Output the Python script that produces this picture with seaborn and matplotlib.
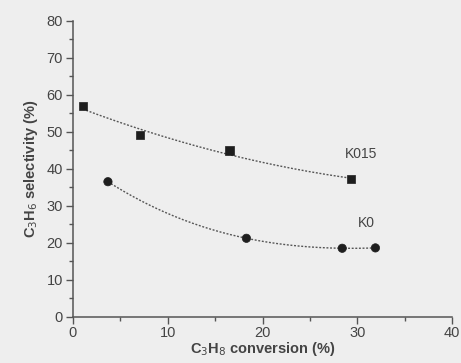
import numpy as np
import pandas as pd
import matplotlib
matplotlib.use("Agg")
import matplotlib.pyplot as plt
import seaborn as sns
from matplotlib.ticker import MultipleLocator

# Propane conversion (%) vs. propylene selectivity (%)
k015_conv = [1.05, 7.1, 16.5, 29.3]
k015_sel = [56.9, 49.1, 44.9, 37.2]
k0_conv = [3.7, 18.3, 28.4, 31.9]
k0_sel = [36.5, 21.2, 18.5, 18.6]

series_names = ["K015", "K0"]
label_pos = {"K015": (30.4, 44.1), "K0": (30.9, 25.2)}

df = pd.concat([
    pd.DataFrame({"conv": k015_conv, "sel": k015_sel, "sample": "K015"}),
    pd.DataFrame({"conv": k0_conv, "sel": k0_sel, "sample": "K0"}),
])

sns.set_theme(style="ticks")
plt.rcParams["font.family"] = ["Liberation Sans", "DejaVu Sans"]

bg = "#eeeeee"
ink = "#444444"
fig = plt.figure(figsize=(4.61, 3.63), dpi=100, facecolor=bg)
ax = fig.add_axes([0.158, 0.1276, 0.823, 0.815])
ax.set_facecolor(bg)

# trend curves (least-squares polynomial fits)
fit_deg = {"K015": 2, "K0": 3}
for name in series_names:
    sub = df[df["sample"] == name]
    coef = np.polyfit(sub["conv"], sub["sel"], fit_deg[name])
    xs = np.linspace(sub["conv"].min(), sub["conv"].max(), 200)
    ax.plot(xs, np.polyval(coef, xs), color="#555555", lw=1.0,
            ls=(0, (1.4, 1.2)), zorder=2)

sns.scatterplot(data=df, x="conv", y="sel", style="sample", markers={"K015": "s", "K0": "o"},
                color="#1e1e1e", s=36, edgecolor="#1e1e1e", linewidth=0.5,
                legend=False, ax=ax, zorder=3)

for name in series_names:
    x, y = label_pos[name]
    ax.text(x, y, name, fontsize=10, color=ink, ha="center", va="center")

ax.set_xlim(0, 40)
ax.set_ylim(0, 80)
ax.xaxis.set_major_locator(MultipleLocator(10))
ax.xaxis.set_minor_locator(MultipleLocator(5))
ax.yaxis.set_major_locator(MultipleLocator(10))
ax.yaxis.set_minor_locator(MultipleLocator(5))
ax.tick_params(which="major", length=5, width=1, color="#555555", labelcolor=ink,
               labelsize=10.5, pad=2)
ax.tick_params(which="minor", length=3, width=1, color="#555555")
for side in ["top", "right"]:
    ax.spines[side].set_visible(False)
for side in ["left", "bottom"]:
    ax.spines[side].set_color("#555555")
    ax.spines[side].set_linewidth(1.1)

ax.set_xlabel("C$_3$H$_8$ conversion (%)", fontsize=10.5, color=ink, labelpad=0,
              fontweight="bold")
ax.set_ylabel("C$_3$H$_6$ selectivity (%)", fontsize=10.5, color=ink, labelpad=5,
              fontweight="bold")

fig.savefig("out.png", dpi=100, facecolor=bg)
